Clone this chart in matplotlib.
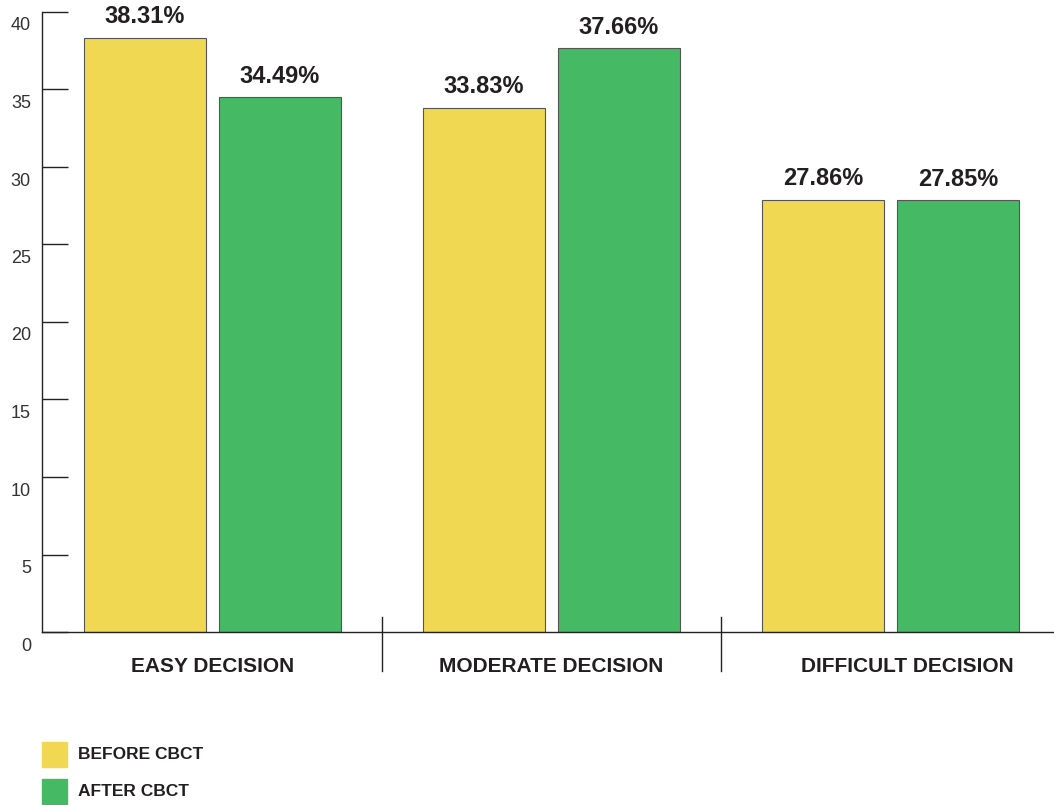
import matplotlib.pyplot as plt
import numpy as np
from matplotlib.transforms import ScaledTranslation
from matplotlib.patches import Rectangle

plt.rcParams['font.family'] = ['Liberation Sans', 'DejaVu Sans']

# decision difficulty, percent of cases
categories = ['EASY DECISION', 'MODERATE DECISION', 'DIFFICULT DECISION']
before_cbct = [38.31, 33.83, 27.86]
after_cbct = [34.49, 37.66, 27.85]
series_names = ['BEFORE CBCT', 'AFTER CBCT']
yticks = [0, 5, 10, 15, 20, 25, 30, 35, 40]

yellow = '#f0d852'
green = '#45b964'
text_col = '#231f20'

fig = plt.figure(figsize=(10.54, 8.05), dpi=100)
ax = fig.add_axes([42 / 1054, 173 / 805, 1012 / 1054, 620 / 805])

x = np.arange(len(categories))
w = 0.36
off = 0.199
b1 = ax.bar(x - off, before_cbct, w, color=yellow, edgecolor='#555555', linewidth=0.8)
b2 = ax.bar(x + off, after_cbct, w, color=green, edgecolor='#555555', linewidth=0.8)

for bars, vals in ((b1, before_cbct), (b2, after_cbct)):
    for r, v in zip(bars, vals):
        ax.annotate(f'{v:.2f}%', (r.get_x() + r.get_width() / 2, v),
                    xytext=(0, 7), textcoords='offset points',
                    ha='center', va='bottom', fontsize=17, fontweight='bold',
                    color=text_col)

ax.set_xlim(-0.503, 2.482)
ax.set_ylim(0, 40)

# separators between groups
for s in (0.5, 1.5):
    ax.plot([s, s], [1.0, -2.5], color='#222222', lw=1, clip_on=False)

ax.set_xticks(x)
ax.set_xticklabels(categories, fontsize=15, fontweight='bold', color=text_col)
ax.tick_params(axis='x', length=0, pad=18)
# last group label sits a little right of its bars
last = ax.get_xticklabels()[-1]
last.set_transform(last.get_transform() + ScaledTranslation(0.17, 0, fig.dpi_scale_trans))

ax.set_yticks(yticks)
ax.set_yticklabels([str(t) for t in yticks], fontsize=13, color='#333333')
ax.tick_params(axis='y', direction='in', length=19, width=1, color='#222222', pad=8)
for lab in ax.get_yticklabels():
    lab.set_transform(lab.get_transform() + ScaledTranslation(0, -0.12, fig.dpi_scale_trans))

for side in ('top', 'right'):
    ax.spines[side].set_visible(False)
for side in ('left', 'bottom'):
    ax.spines[side].set_color('#222222')
    ax.spines[side].set_linewidth(1)

# legend
for i, (name, col) in enumerate(zip(series_names, [yellow, green])):
    y0 = 1 - (767 + i * 37) / 805
    fig.patches.append(Rectangle((42 / 1054, y0), 25 / 1054, 25 / 805,
                                 transform=fig.transFigure, color=col))
    fig.text(78 / 1054, y0 + 12.5 / 805, name, fontsize=12.5, fontweight='bold',
             va='center', ha='left', color=text_col)

fig.savefig('out.png', dpi=100)
